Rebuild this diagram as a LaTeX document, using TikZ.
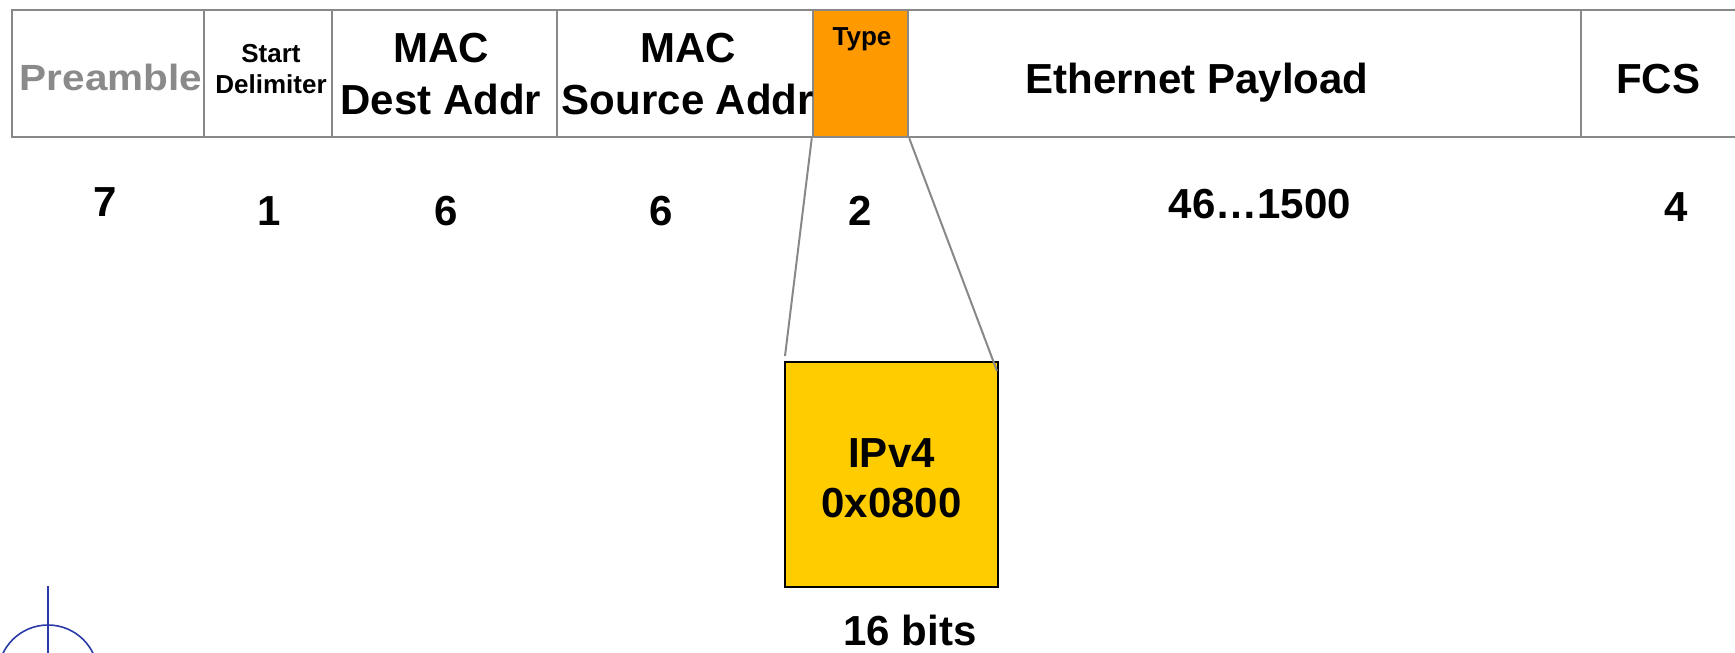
\documentclass[tikz,border=0pt]{standalone}
\usepackage{graphicx}
\usepackage{fontspec}
\setmainfont{Liberation Sans}
\definecolor{framegray}{HTML}{888888}
\definecolor{typeorange}{HTML}{FF9900}
\definecolor{ipyellow}{HTML}{FFCC00}
\definecolor{symblue}{HTML}{2A3AA8}
\definecolor{pregray}{HTML}{8A8A8A}
\tikzset{
  big/.style={font=\bfseries\fontsize{42}{50}\selectfont, inner sep=0pt, anchor=base},
  mid/.style={font=\bfseries\fontsize{40.5}{46}\selectfont, inner sep=0pt, anchor=base},
  small/.style={font=\bfseries\fontsize{26}{30}\selectfont, inner sep=0pt, anchor=base},
  frameline/.style={draw=framegray, line width=2.5pt},
  zoomline/.style={draw=framegray, line width=2pt},
}
\begin{document}
\begin{tikzpicture}[x=1pt,y=-1pt]
\useasboundingbox (0,0) rectangle (1735,653);
% Type field (filled)
\node[fill=typeorange, draw=framegray, line width=2.5pt, minimum width=95pt, minimum height=127pt, inner sep=0pt] (type) at (860.5,73.5) {};
% frame
\draw[frameline] (1735,10) -- (12,10) -- (12,137) -- (1735,137);
\foreach \x in {204,332,557,813,908,1581}
  \draw[frameline] (\x,10) -- (\x,137);
% field labels
\node[mid, text=pregray] (pre) at (111,90) {\scalebox{1}[0.9]{Preamble}};
\node[small] (sd1) at (271,62) {Start};
\node[small] (sd2) at (271,93) {Delimiter};
\node[big] (md1) at (441,62) {MAC};
\node[big] (md2) at (441,114) {Dest Addr};
\node[big] (ms1) at (688,62) {MAC};
\node[big] (ms2) at (688,114) {Source Addr};
\node[small] (tt) at (862,45) {Type};
\node[big] (pay) at (1197,93) {Ethernet Payload};
\node[big] (fcs) at (1658,93) {FCS};
% sizes
\node[big] (n7) at (105,216) {7};
\node[big] (n1) at (269,225) {1};
\node[big] (n6a) at (446,225) {6};
\node[big] (n6b) at (661,225) {6};
\node[big] (n2) at (860,225) {2};
\node[big] (npay) at (1260,218) {46\ldots1500};
\node[big] (n4) at (1676,221) {4};
% IPv4 box
\node[fill=ipyellow, draw=black, line width=2.5pt, minimum width=213pt, minimum height=225pt, inner sep=0pt] (ip) at (891.5,474.5) {};
\node[big] (ip1) at (891.5,467) {IPv4};
\node[big] (ip2) at (891.5,517) {0x0800};
\node[big] (bits) at (910,645) {16 bits};
% zoom connectors
\coordinate (lend) at (785,356);
\coordinate (rend) at (997,371);
\draw[zoomline] (type.south west) -- (lend);
\draw[zoomline] (type.south east) -- (rend);
% blue symbol
\draw[symblue, line width=1.6pt] (48,586) -- (48,653);
\draw[symblue, line width=1.6pt] (48,675) circle (50);
\end{tikzpicture}
\end{document}
